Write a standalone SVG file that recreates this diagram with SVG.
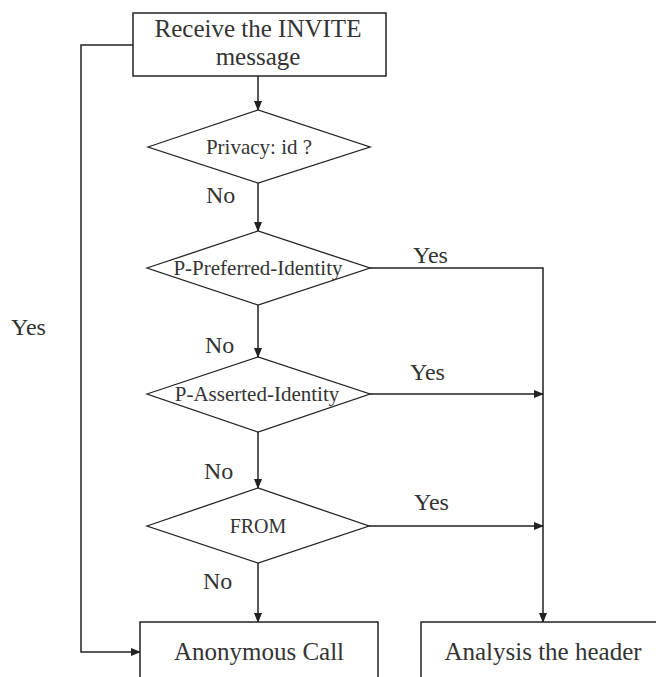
<svg xmlns="http://www.w3.org/2000/svg" width="656" height="677" viewBox="0 0 656 677">
<style>
.box{fill:#fff;stroke:#222;stroke-width:1.5}
.dia{fill:#fff;stroke:#222;stroke-width:1.3}
.ln{fill:none;stroke:#222;stroke-width:1.5}
.t{font-family:"Liberation Serif",serif;font-size:25px;fill:#333;text-anchor:middle}
.d{font-family:"Liberation Serif",serif;font-size:21px;fill:#333;text-anchor:middle}
.lb{font-family:"Liberation Serif",serif;font-size:24px;fill:#333}
</style>
<defs>
<marker id="ah" markerWidth="10" markerHeight="8" refX="9" refY="4" orient="auto" markerUnits="userSpaceOnUse">
<path d="M0,0 L10,4 L0,8 Z" fill="#222"/>
</marker>
</defs>
<rect width="656" height="677" fill="#fff"/>
<g id="connectors">
<path class="ln" d="M258,76 V110" marker-end="url(#ah)"/>
<path class="ln" d="M258,183 V231" marker-end="url(#ah)"/>
<path class="ln" d="M258,305 V357" marker-end="url(#ah)"/>
<path class="ln" d="M258,432 V488" marker-end="url(#ah)"/>
<path class="ln" d="M258,563 V622" marker-end="url(#ah)"/>
<path class="ln" d="M133,45 H81 V652 H140" marker-end="url(#ah)"/>
<path class="ln" d="M370,268 H543 V622" marker-end="url(#ah)"/>
<path class="ln" d="M370,394 H543" marker-end="url(#ah)"/>
<path class="ln" d="M369,526 H543" marker-end="url(#ah)"/>
<text class="lb" x="206" y="203">No</text>
<text class="lb" x="413" y="263">Yes</text>
<text class="lb" x="205" y="353">No</text>
<text class="lb" x="410" y="380">Yes</text>
<text class="lb" x="204" y="479">No</text>
<text class="lb" x="414" y="510">Yes</text>
<text class="lb" x="203" y="589">No</text>
<text class="lb" x="11" y="335">Yes</text>
</g>
<g id="start">
<rect class="box" x="133" y="13" width="253" height="63"/>
<text class="t" x="258" y="37">Receive the INVITE</text>
<text class="t" x="258" y="65">message</text>
</g>
<g id="privacy">
<polygon class="dia" points="148,147 258,110 370,147 258,183"/>
<text class="d" x="259" y="154">Privacy: id ?</text>
</g>
<g id="preferred">
<polygon class="dia" points="147,268 258,231 370,268 258,305"/>
<text class="d" x="258" y="275">P-Preferred-Identity</text>
</g>
<g id="asserted">
<polygon class="dia" points="147,394 258,357 370,394 258,432"/>
<text class="d" x="257" y="401">P-Asserted-Identity</text>
</g>
<g id="from">
<polygon class="dia" points="147,526 258,488 369,526 258,563"/>
<text class="d" x="258" y="533" style="font-size:20px">FROM</text>
</g>
<g id="anonymous">
<rect class="box" x="140" y="622" width="238" height="70"/>
<text class="t" x="259" y="660">Anonymous Call</text>
</g>
<g id="analysis">
<rect class="box" x="421" y="622" width="240" height="70"/>
<text class="t" x="543" y="660">Analysis the header</text>
</g>
</svg>
